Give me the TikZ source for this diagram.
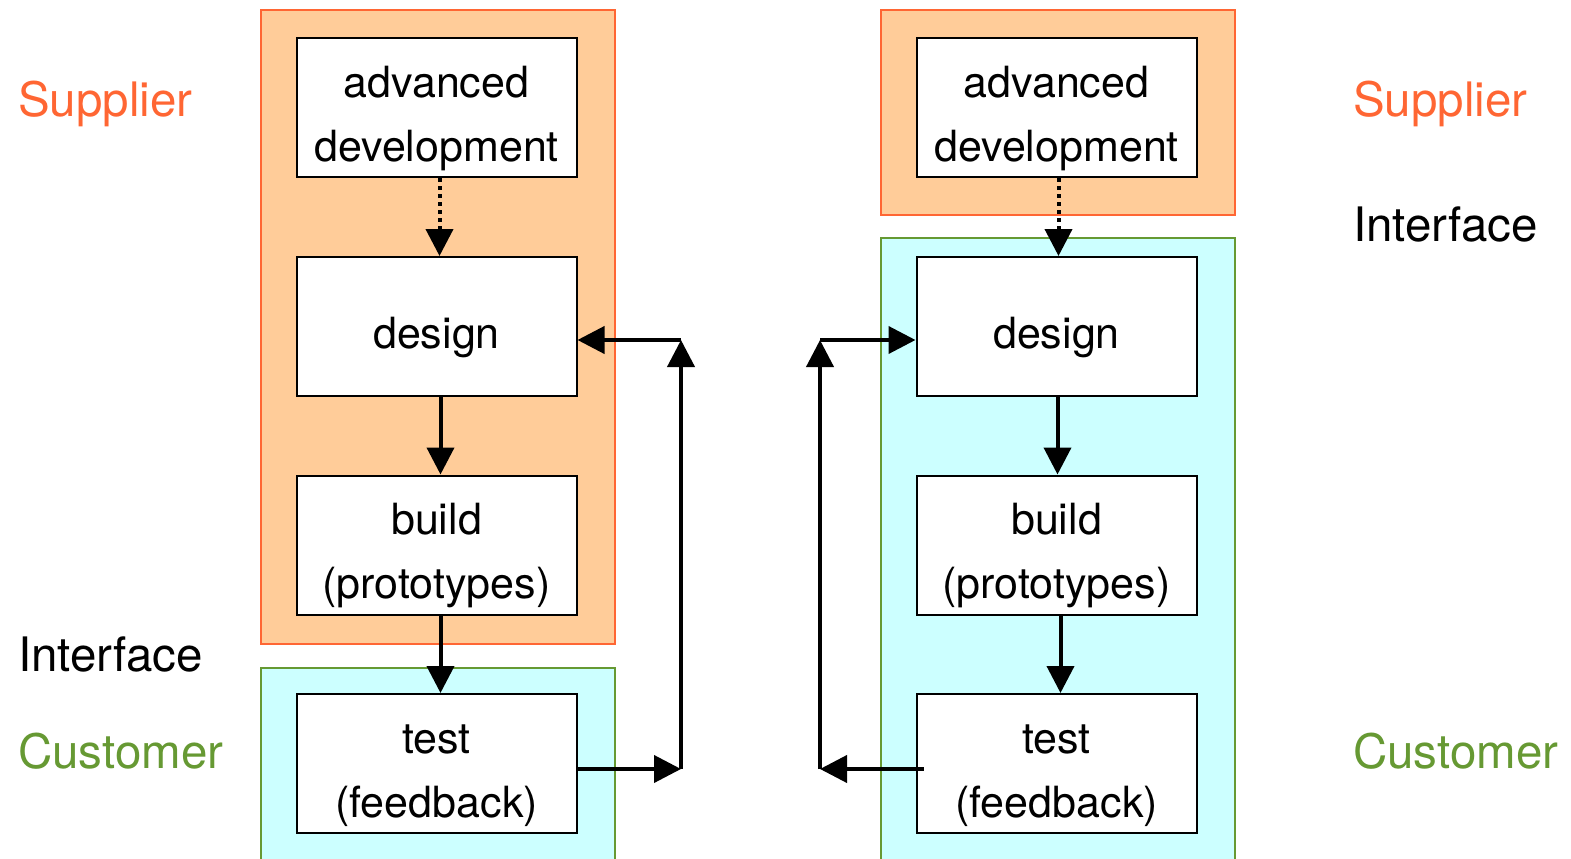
\documentclass[tikz,border=0pt]{standalone}
\usepackage{fontspec}
\setmainfont{TeX Gyre Heros}
\usetikzlibrary{arrows.meta}
\definecolor{supfill}{HTML}{FFCC99}
\definecolor{supline}{HTML}{FF6633}
\definecolor{cusfill}{HTML}{CCFFFF}
\definecolor{cusline}{HTML}{669933}
\newcommand{\boxtext}[1]{\raisebox{-9pt}[\height][\depth]{\begin{tabular}{@{}c@{}}#1\end{tabular}}}
\tikzset{
  stepbox/.style={draw=black, line width=2pt, fill=white, minimum width=280pt, minimum height=139pt, inner sep=0pt, font=\fontsize{43}{64}\selectfont},
  flow/.style={line width=4pt, -{Triangle[length=27pt 0,width=27pt 0]}},
  dotflow/.style={flow, dash pattern=on 4pt off 4pt},
  lab/.style={anchor=west, inner sep=0pt, font=\fontsize{47.5}{56}\selectfont},
  suparea/.style={fill=supfill, draw=supline, line width=1.6pt},
  cusarea/.style={fill=cusfill, draw=cusline, line width=1.6pt}
}
\begin{document}
\begin{tikzpicture}[x=1pt,y=-1pt]
\useasboundingbox (0,0) rectangle (1571,859);
% areas
\draw[suparea] (261,10) rectangle (615,644);
\draw[cusarea] (261,668) rectangle (615,870);
\draw[suparea] (881,10) rectangle (1235,215);
\draw[cusarea] (881,238) rectangle (1235,870);
% left column
\node[stepbox] (la) at (436.5,107.5) {\boxtext{advanced\\development}};
\node[stepbox] (ld) at (436.5,326.5) {\boxtext{design}};
\node[stepbox] (lb) at (436.5,545) {\boxtext{build\\(prototypes)}};
\node[stepbox] (lt) at (436.5,763.5) {\boxtext{test\\(feedback)}};
% right column
\node[stepbox] (ra) at (1056.5,107.5) {\boxtext{advanced\\development}};
\node[stepbox] (rd) at (1056.5,326.5) {\boxtext{design}};
\node[stepbox] (rb) at (1056.5,545) {\boxtext{build\\(prototypes)}};
\node[stepbox] (rt) at (1056.5,763.5) {\boxtext{test\\(feedback)}};
% feedback corner points
\coordinate (lc1) at (681,769);
\coordinate (lc2) at (681,340);
\coordinate (rc1) at (820,769);
\coordinate (rc2) at (820,340);
% left arrows
\draw[dotflow] ([xshift=3pt]la.south) -- ([xshift=3pt]ld.north);
\draw[flow] ([xshift=4pt]ld.south) -- ([xshift=4pt]lb.north);
\draw[flow] ([xshift=4pt]lb.south) -- ([xshift=4pt]lt.north);
\draw[flow] (lt.east |- lc1) -- (lc1);
\draw[flow] (lc1) -- (lc2);
\draw[flow] (lc2) -- (ld.east |- lc2);
% right arrows
\draw[dotflow] ([xshift=2pt]ra.south) -- ([xshift=2pt]rd.north);
\draw[flow] ([xshift=1pt]rd.south) -- ([xshift=1pt]rb.north);
\draw[flow] ([xshift=4pt]rb.south) -- ([xshift=4pt]rt.north);
\draw[flow] ([xshift=8pt]rt.west |- rc1) -- (rc1);
\draw[flow] (rc1) -- (rc2);
\draw[flow] (rc2) -- (rd.west |- rc2);
% labels
\node[lab, text=supline] (ls) at (18,104) {Supplier};
\node[lab] (li) at (18,654) {Interface};
\node[lab, text=cusline] (lcu) at (18,751) {Customer};
\node[lab, text=supline] (rs) at (1353,104) {Supplier};
\node[lab] (ri) at (1353,224) {Interface};
\node[lab, text=cusline] (rcu) at (1353,751) {Customer};
\end{tikzpicture}
\end{document}
